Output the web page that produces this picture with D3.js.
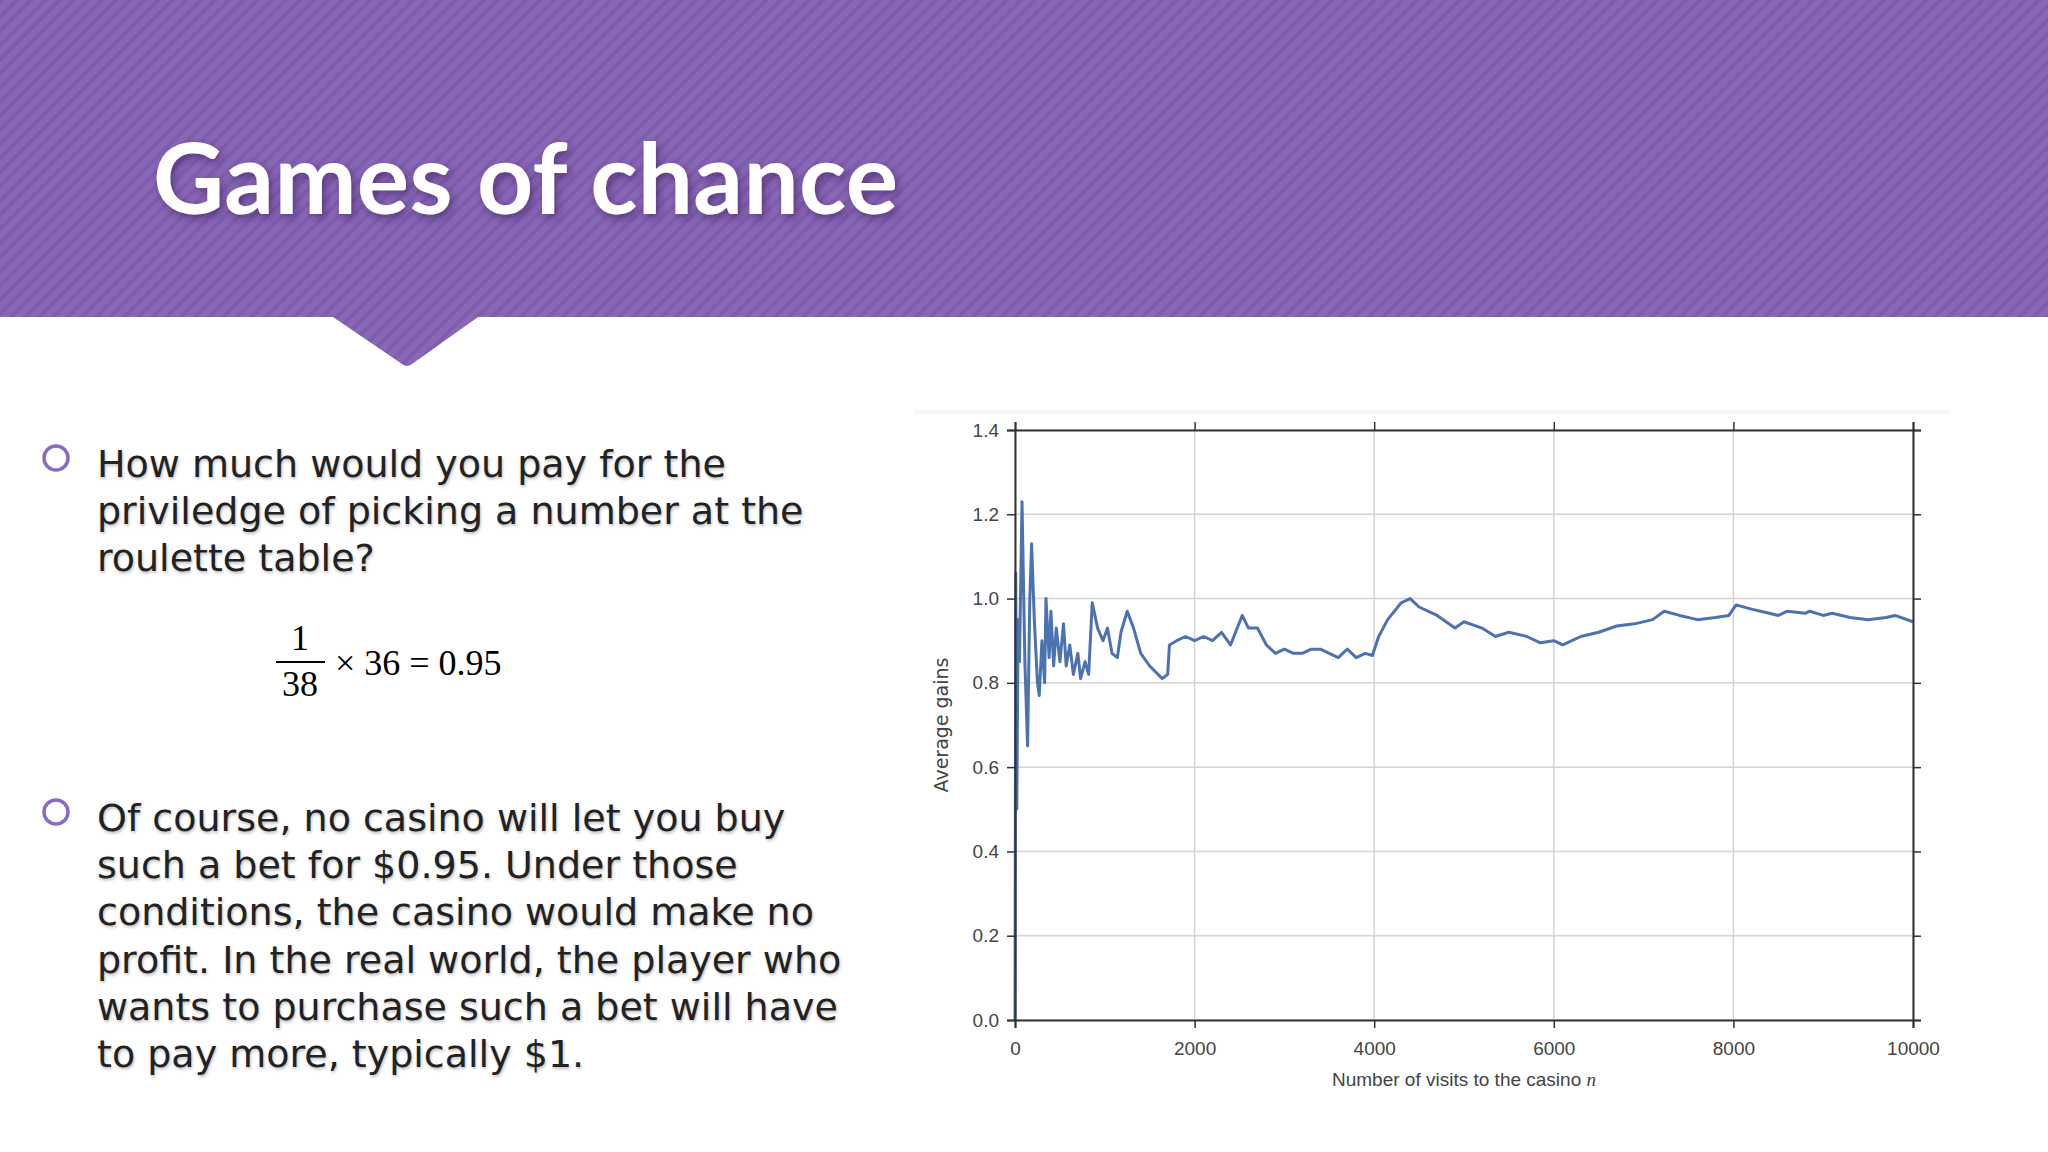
<!DOCTYPE html>
<html>
<head>
<meta charset="utf-8">
<script src="https://cdn.jsdelivr.net/npm/d3@7"></script>
<style>
  body { margin: 0; background: #fff; }
  svg { display: block; }
</style>
</head>
<body>
<svg id="slide" width="2048" height="1152"></svg>
<script>
// running average of gains
var visits = [0, 8, 20, 35, 50, 78, 110, 140, 165, 185, 215, 250, 270, 300, 330, 345, 380, 400, 430, 460, 500, 540, 570, 610, 650, 700, 730, 780, 820, 860, 920, 980, 1030, 1080, 1140, 1180, 1250, 1320, 1400, 1500, 1640, 1700, 1720, 1800, 1900, 2000, 2100, 2200, 2300, 2400, 2530, 2600, 2700, 2800, 2900, 3000, 3100, 3200, 3300, 3400, 3500, 3600, 3700, 3800, 3900, 3980, 4050, 4150, 4300, 4400, 4500, 4700, 4900, 5000, 5200, 5350, 5500, 5700, 5850, 6000, 6100, 6300, 6500, 6700, 6900, 7100, 7230, 7400, 7600, 7800, 7950, 8030, 8200, 8400, 8500, 8600, 8800, 8850, 9000, 9100, 9300, 9500, 9700, 9800, 10000];
var gains = [0, 1.06, 0.5, 0.95, 0.85, 1.23, 0.85, 0.65, 1.0, 1.13, 0.95, 0.8, 0.77, 0.9, 0.8, 1.0, 0.86, 0.97, 0.84, 0.93, 0.85, 0.94, 0.84, 0.89, 0.82, 0.87, 0.81, 0.85, 0.82, 0.99, 0.93, 0.9, 0.93, 0.87, 0.86, 0.92, 0.97, 0.93, 0.87, 0.84, 0.81, 0.82, 0.89, 0.9, 0.91, 0.9, 0.91, 0.9, 0.92, 0.89, 0.96, 0.93, 0.93, 0.89, 0.87, 0.88, 0.87, 0.87, 0.88, 0.88, 0.87, 0.86, 0.88, 0.86, 0.87, 0.865, 0.91, 0.95, 0.99, 1.0, 0.98, 0.96, 0.93, 0.945, 0.93, 0.91, 0.92, 0.91, 0.895, 0.9, 0.89, 0.91, 0.92, 0.935, 0.94, 0.95, 0.97, 0.96, 0.95, 0.955, 0.96, 0.985, 0.975, 0.965, 0.96, 0.97, 0.965, 0.97, 0.96, 0.965, 0.955, 0.95, 0.955, 0.96, 0.945];
var xTicks = [0, 2000, 4000, 6000, 8000, 10000];
var yTicks = [0.0, 0.2, 0.4, 0.6, 0.8, 1.0, 1.2, 1.4];

var svg = d3.select("#slide");

// banner with stripes
var defs = svg.append("defs");
var pat = defs.append("pattern").attr("id", "stripes")
    .attr("width", 10).attr("height", 10)
    .attr("patternUnits", "userSpaceOnUse")
    .attr("patternTransform", "rotate(45)");
pat.append("rect").attr("width", 10).attr("height", 10).attr("fill", "#8867b5");
pat.append("rect").attr("width", 4).attr("height", 10).attr("fill", "#7f5dae");
var shadow = defs.append("filter").attr("id", "shadow").attr("x", "-10%").attr("y", "-20%").attr("width", "130%").attr("height", "150%");
shadow.append("feDropShadow").attr("dx", 3).attr("dy", 4).attr("stdDeviation", 4).attr("flood-color", "#3a2060").attr("flood-opacity", 0.6);

svg.append("path")
    .attr("d", "M0,0H2048V317H478L412,364Q407,368 402,364L333,317H0Z")
    .attr("fill", "url(#stripes)");

svg.append("text")
    .attr("x", 153).attr("y", 214)
    .attr("font-family", "Lato").attr("font-weight", 700)
    .attr("font-size", 98).attr("fill", "#fff")
    .attr("textLength", 745)
    .attr("filter", "url(#shadow)")
    .text("Games of chance");

// bullet text
var bodyFont = "DejaVu Sans";
var block1 = ["How much would you pay for the", "priviledge of picking a number at the", "roulette table?"];
var block2 = ["Of course, no casino will let you buy", "such a bet for $0.95. Under those", "conditions, the casino would make no", "profit. In the real world, the player who", "wants to purchase such a bet will have", "to pay more, typically $1."];
[[block1, 477, 458], [block2, 831, 812]].forEach(function(b) {
    svg.append("circle").attr("cx", 56).attr("cy", b[2]).attr("r", 12)
        .attr("fill", "none").attr("stroke", "#8a6bbf").attr("stroke-width", 3.5);
    svg.append("g").selectAll("text").data(b[0]).enter().append("text")
        .attr("x", 97).attr("y", function(d, i) { return b[1] + i * 47.2; })
        .attr("font-family", bodyFont).attr("font-size", 38).attr("fill", "#222")
        .attr("style", "text-shadow: 1px 2px 3px rgba(0,0,0,0.25)")
        .text(function(d) { return d; });
});

// formula
var ff = "Liberation Serif";
svg.append("text").attr("x", 300).attr("y", 650).attr("text-anchor", "middle")
    .attr("font-family", ff).attr("font-size", 36).text("1");
svg.append("line").attr("x1", 276).attr("x2", 325).attr("y1", 662).attr("y2", 662)
    .attr("stroke", "#000").attr("stroke-width", 2);
svg.append("text").attr("x", 300).attr("y", 696).attr("text-anchor", "middle")
    .attr("font-family", ff).attr("font-size", 36).text("38");
svg.append("text").attr("x", 335).attr("y", 675)
    .attr("font-family", ff).attr("font-size", 36).text("× 36 = 0.95");

// chart
var pLeft = 1015, pRight = 1913, pTop = 430, pBottom = 1020;
svg.append("rect").attr("x", 915).attr("y", 410).attr("width", 1035).attr("height", 4).attr("fill", "#f6f6f6");

var x = d3.scaleLinear().domain([0, 10000]).range([pLeft, pRight]);
var y = d3.scaleLinear().domain([0, 1.4]).range([pBottom, pTop]);

var grid = svg.append("g");
grid.selectAll(".gx").data(xTicks).enter().append("line")
    .attr("x1", function(d) { return x(d); }).attr("x2", function(d) { return x(d); })
    .attr("y1", pTop).attr("y2", pBottom).attr("stroke", "#d4d4d4").attr("stroke-width", 1.5);
grid.selectAll(".gy").data(yTicks).enter().append("line")
    .attr("y1", function(d) { return y(d); }).attr("y2", function(d) { return y(d); })
    .attr("x1", pLeft).attr("x2", pRight).attr("stroke", "#d4d4d4").attr("stroke-width", 1.5);

var pts = visits.map(function(v, i) { return [v, gains[i]]; });
svg.append("path").datum(pts)
    .attr("fill", "none").attr("stroke", "#4c72b0").attr("stroke-width", 3)
    .attr("stroke-linejoin", "round")
    .attr("d", d3.line().x(function(d) { return x(d[0]); }).y(function(d) { return y(d[1]); }));

function styleAxis(g) {
    g.selectAll("path").attr("stroke", "#333").attr("stroke-width", 2);
    g.selectAll("line").attr("stroke", "#333").attr("stroke-width", 1.5);
    g.selectAll("text").attr("fill", "#444").attr("font-family", "Liberation Sans").attr("font-size", 19);
}
svg.append("g").attr("transform", "translate(0," + pBottom + ")")
    .call(d3.axisBottom(x).tickValues(xTicks).tickFormat(d3.format("d")).tickSize(8).tickPadding(14)).call(styleAxis);
svg.append("g").attr("transform", "translate(0," + pTop + ")")
    .call(d3.axisTop(x).tickValues(xTicks).tickFormat("").tickSize(8)).call(styleAxis);
svg.append("g").attr("transform", "translate(" + pLeft + ",0)")
    .call(d3.axisLeft(y).tickValues(yTicks).tickFormat(d3.format(".1f")).tickSize(8).tickPadding(8)).call(styleAxis);
svg.append("g").attr("transform", "translate(" + pRight + ",0)")
    .call(d3.axisRight(y).tickValues(yTicks).tickFormat("").tickSize(8)).call(styleAxis);

svg.append("text").attr("transform", "translate(948," + ((pTop + pBottom) / 2) + ")rotate(-90)")
    .attr("text-anchor", "middle").attr("font-family", "DejaVu Sans").attr("font-size", 19)
    .attr("fill", "#444").text("Average gains");
var xl = svg.append("text").attr("x", (pLeft + pRight) / 2).attr("y", 1086)
    .attr("text-anchor", "middle").attr("font-family", "Liberation Sans").attr("font-size", 19)
    .attr("fill", "#444");
xl.append("tspan").text("Number of visits to the casino ");
xl.append("tspan").attr("font-family", "Liberation Serif").attr("font-style", "italic").text("n");
</script>
</body>
</html>
